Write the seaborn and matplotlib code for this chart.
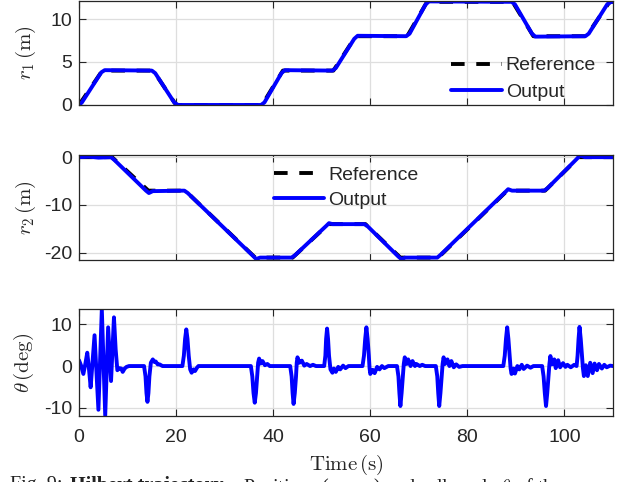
import numpy as np
import pandas as pd
import matplotlib
matplotlib.use("Agg")
import matplotlib.pyplot as plt
import seaborn as sns

# ---------------- data ----------------
# Reference trajectory (knots of the piecewise-linear Hilbert path)
ref_t = [0, 4.8, 6.8, 14.3, 15.3, 20.0, 21.9, 36.3, 37.7, 42.0, 44.0, 51.4, 52.4, 57.0,
         59.0, 66.2, 67.6, 71.7, 74.0, 88.2, 89.3, 93.6, 96.0, 103.0, 104.5, 109.3, 110]
ref_r1 = [0, 4, 4, 4, 4, 0, 0, 0, 0, 4, 4, 4, 4, 8,
          8, 8, 8, 12, 12, 12, 12, 8, 8, 8, 8, 12, 12]
ref_r2 = [0, 0, 0, -7, -7, -7, -7, -21, -21, -21, -21, -14, -14, -14,
          -14, -21, -21, -21, -21, -7, -7, -7, -7, 0, 0, 0, 0]

# Output r1
out_t1 = [0, 0.6, 4.6, 5.3, 15.0, 15.7, 19.6, 20.4, 37.5, 38.2, 41.7, 42.4, 52.2, 52.9,
          56.7, 57.4, 67.4, 68.1, 71.4, 72.1, 89.1, 89.8, 93.3, 94.0, 104.3, 105.0,
          108.8, 109.6, 110]
out_r1 = [0, 0.3, 3.8, 4.05, 4.0, 3.7, 0.3, 0.0, 0.0, 0.3, 3.7, 4.05, 4.0, 4.3,
          7.7, 8.05, 8.0, 8.3, 11.7, 12.05, 12.0, 11.7, 8.3, 7.95, 8.0, 8.3,
          11.7, 12.0, 12.0]

# Output r2
out_t2 = [0, 2.0, 4.0, 6.6, 7.3, 13.8, 14.4, 15.2, 21.7, 22.4, 35.8, 36.5, 37.3, 43.8,
          44.5, 51.0, 51.5, 52.2, 58.8, 59.5, 65.8, 66.4, 67.2, 73.8, 74.5, 87.8,
          88.4, 89.2, 95.8, 96.5, 102.6, 103.2, 104.2, 110]
out_r2 = [0, 0.1, -0.1, 0, -0.6, -7.0, -7.5, -7.1, -7.0, -7.5, -20.6, -21.3, -21.0, -21.0,
          -20.5, -14.3, -13.8, -14.0, -14.0, -14.5, -20.8, -21.3, -21.0, -21.0, -20.4, -7.3,
          -6.7, -7.0, -7.0, -6.5, -0.3, 0.4, 0.0, 0.0]

# Roll angle theta (deg)
th_t = [0, 0.4, 0.9, 1.3, 1.7, 2.0, 2.4, 2.8, 3.2, 3.6, 4.0, 4.35, 4.7, 5.05, 5.4, 5.7,
        6.0, 6.3, 6.6, 6.9, 7.2, 7.55, 7.9, 8.3, 8.7, 9.0, 9.4, 9.8, 10.3,
        13.4, 13.7, 13.9, 14.1, 14.3, 14.5, 14.8, 15.2, 15.5, 15.8, 16.2, 16.6, 17.2,
        21.3, 21.6, 21.85, 22.1, 22.35, 22.6, 22.9, 23.2, 23.6, 23.9, 24.3, 24.6,
        35.4, 35.7, 35.95, 36.2, 36.45, 36.7, 36.9, 37.1, 37.4, 37.8, 38.3, 38.8, 39.3,
        43.5, 43.8, 44.0, 44.2, 44.45, 44.7, 44.85, 45.0, 45.4, 45.9, 46.4, 46.9, 47.6,
        48.2, 48.8,
        50.5, 50.75, 50.9, 51.1, 51.3, 51.5, 51.8, 52.2, 52.5, 52.9, 53.4, 53.8, 54.4,
        54.9, 55.5,
        58.4, 58.7, 58.95, 59.2, 59.45, 59.7, 59.85, 60.0, 60.5, 60.9, 61.4, 61.9, 62.4,
        62.9, 63.7,
        65.5, 65.8, 66.0, 66.2, 66.45, 66.7, 66.9, 67.1, 67.5, 67.8, 68.3, 68.7, 69.2,
        69.5, 70.2, 70.7, 71.3,
        73.5, 73.8, 74.0, 74.2, 74.45, 74.7, 74.9, 75.1, 75.4, 75.9, 76.3, 76.7, 77.2,
        77.7, 78.3, 79.0,
        87.4, 87.7, 87.95, 88.2, 88.45, 88.7, 88.9, 89.1, 89.5, 89.8, 90.3, 90.7, 91.2,
        91.6, 92.3, 93.0, 93.6,
        95.4, 95.7, 95.95, 96.2, 96.45, 96.7, 96.9, 97.1, 97.4, 97.9, 98.2, 98.7, 99.1,
        99.7, 100.2, 100.6, 101.3, 102.0,
        102.5, 102.7, 102.9, 103.1, 103.35, 103.6, 103.8, 104.0, 104.4, 104.8, 105.3,
        105.8, 106.2, 106.7, 107.1, 107.7, 108.2, 108.7, 109.4, 110]
th_v = [1.4, 0.2, -1.9, 0.5, 3.2, 0.0, -5.1, 1.0, 7.4, -1.5, -10.5, 1.5, 13.6, 1.0, -11.9, -1.0,
        9.3, 3.0, -3.6, 4.0, 11.7, 4.0, -1.0, -0.5, -0.6, -1.4, -0.6, -0.2, 0.0,
        0, -2.5, -6.5, -8.6, -6.5, -2.5, 0.8, 1.6, 1.0, 1.1, 0.4, 0.4, 0.0,
        0, 2.5, 6.5, 8.8, 6.5, 2.5, -0.8, -1.6, -0.8, -1.2, -0.4, 0.0,
        0, -2.5, -6.5, -8.8, -6.5, -2.5, 0.8, 1.8, 0.6, 1.2, 0.2, 0.5, 0.0,
        0, -2.5, -6.5, -9.1, -6.5, -2.5, 0.8, 2.1, 0.8, 1.3, 0.1, 0.5, 0.0,
        0.3, 0.0,
        0, 2.5, 6.5, 9.0, 6.5, 2.5, -0.8, -1.6, -0.6, -1.4, -0.2, -0.8, 0.1,
        -0.5, 0.0,
        0, 2.5, 6.5, 9.3, 6.5, 2.5, -0.5, -1.9, -0.9, -1.7, -0.2, -0.8, 0.0,
        -0.5, 0.0,
        0, -2.5, -6.5, -9.6, -6.5, -2.5, 0.5, 2.1, 0.5, 1.6, 0.0, 1.2, 0.0,
        0.5, 0.0, 0.3, 0.0,
        0, -2.5, -6.5, -9.6, -6.5, -2.5, 0.5, 2.1, 0.5, 1.6, 0.0, 1.2, -0.3,
        0.4, -0.2, 0.0,
        0, 2.5, 6.5, 9.3, 6.5, 2.5, -0.5, -1.9, -0.6, -1.8, 0.0, -0.8, 0.3,
        -0.7, 0.1, -0.4, 0.0,
        0, -2.5, -6.5, -9.6, -6.5, -2.5, 0.5, 2.4, 0.4, 1.6, -0.5, 1.4, -0.3,
        0.7, -0.2, 0.3, -0.3, 0.3,
        0, 2.5, 6.5, 9.4, 6.5, 2.5, -0.5, -2.4, 0.2, -2.4, 0.8,
        -1.7, 0.6, -1.0, 0.5, -0.6, 0.3, -0.3, 0.1, 0.0]

x_ticks = [0, 20, 40, 60, 80, 100]
r1_ticks = [0, 5, 10]
r2_ticks = [-20, -10, 0]
th_ticks = [-10, 0, 10]

ref_df = pd.DataFrame({"t": ref_t, "r1": ref_r1, "r2": ref_r2})
out1_df = pd.DataFrame({"t": out_t1, "r1": out_r1})
out2_df = pd.DataFrame({"t": out_t2, "r2": out_r2})
th_df = pd.DataFrame({"t": th_t, "theta": th_v})

# ---------------- style ----------------
sns.set_style("ticks")
plt.rcParams["font.family"] = ["Liberation Sans", "DejaVu Sans"]
plt.rcParams["mathtext.fontset"] = "cm"
plt.rcParams["axes.unicode_minus"] = False

GRAY = "#262626"
BLUE = (0, 0, 1)
LW = 2.8
DASH = (0, (3.5, 3))

fig = plt.figure(figsize=(6.27, 4.82), dpi=100)
W = 0.8517
L = 0.126
ax1 = fig.add_axes([L, 0.7822, W, 0.2158])
ax2 = fig.add_axes([L, 0.4606, W, 0.2178])
ax3 = fig.add_axes([L, 0.1369, W, 0.2220])


def style(ax, yticks, ylim, ylabel, xlabels, label_x):
    ax.set_xlim(0, 110)
    ax.set_ylim(*ylim)
    ax.set_xticks(x_ticks)
    ax.set_yticks(yticks)
    ax.grid(True, color="#dedede", lw=0.9)
    ax.set_axisbelow(True)
    ax.tick_params(which="both", direction="in", top=True, right=True, length=5,
                   width=0.8, colors=GRAY, labelsize=14, pad=5)
    ax.tick_params(axis="x", pad=9.3)
    for s in ax.spines.values():
        s.set_color(GRAY)
        s.set_linewidth(0.9)
    ax.set_ylabel(ylabel, fontsize=15, color=GRAY)
    ax.yaxis.set_label_coords(label_x, 0.5)
    if not xlabels:
        ax.tick_params(labelbottom=False)
        ax.set_xlabel("")


# r1
sns.lineplot(data=ref_df, x="t", y="r1", ax=ax1, color="k", lw=LW, linestyle=DASH,
             label="Reference", sort=False, estimator=None)
sns.lineplot(data=out1_df, x="t", y="r1", ax=ax1, color=BLUE, lw=LW,
             label="Output", sort=False, estimator=None)
style(ax1, r1_ticks, (0, 12.1), r"$r_1\,(\mathrm{m})$", False, -0.077)
ax1.legend(loc="lower right", bbox_to_anchor=(0.968, 0.04), frameon=False, fontsize=14,
           handlelength=2.6, handletextpad=0.2, labelspacing=0.45, borderaxespad=0,
           borderpad=0)

# r2
sns.lineplot(data=ref_df, x="t", y="r2", ax=ax2, color="k", lw=LW, linestyle=DASH,
             label="Reference", sort=False, estimator=None)
sns.lineplot(data=out2_df, x="t", y="r2", ax=ax2, color=BLUE, lw=LW,
             label="Output", sort=False, estimator=None)
style(ax2, r2_ticks, (-21.5, 0.45), r"$r_2\,(\mathrm{m})$", False, -0.077)
ax2.legend(loc="upper left", bbox_to_anchor=(0.365, 0.895), frameon=False, fontsize=14,
           handlelength=2.6, handletextpad=0.2, labelspacing=0.4, borderaxespad=0,
           borderpad=0)

# theta
sns.lineplot(data=th_df, x="t", y="theta", ax=ax3, color=BLUE, lw=LW,
             sort=False, estimator=None)
style(ax3, th_ticks, (-12, 13.7), r"$\theta\,(\mathrm{deg})$", True, -0.081)
ax3.set_xlabel(r"$\mathrm{Time\,(s)}$", fontsize=15, color=GRAY, labelpad=4.9)

# caption (cut off at bottom edge, as in the source)
CAP_Y = 1 - 476 / 482
fig.text(10 / 627, CAP_Y, "Fig. 9:", family="Liberation Serif", fontsize=14.5,
         va="top", color="#222222")
fig.text(70 / 627, CAP_Y, "Hilbert trajectory.", family="Liberation Serif",
         fontsize=14.5, fontweight="bold", va="top", color="#222222")
fig.text(243 / 627, CAP_Y, r"Positions ($r_1$, $r_2$) and roll angle $\theta$ of the",
         family="Liberation Serif", fontsize=14.5, va="top", color="#222222")

fig.savefig("out.png", dpi=100)
